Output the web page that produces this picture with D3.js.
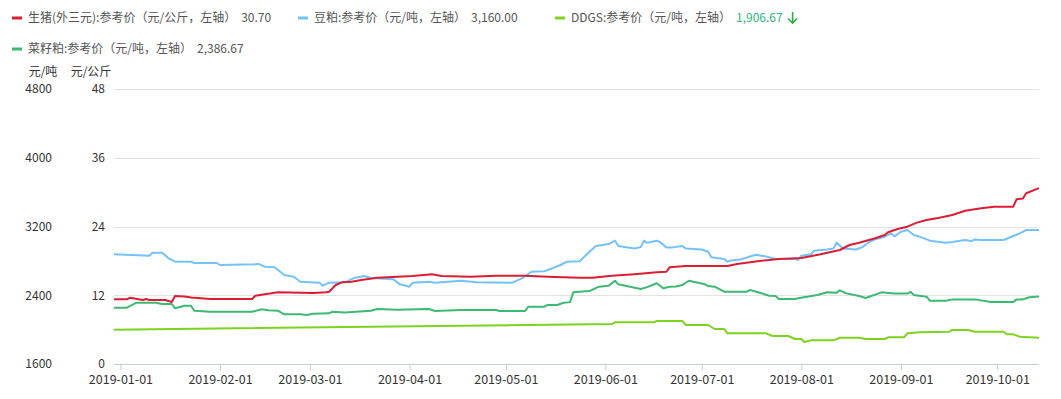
<!DOCTYPE html>
<html><head><meta charset="utf-8">
<script src="https://cdn.jsdelivr.net/npm/d3@7"></script>
<style>
body{margin:0;background:#fff;}
text{font-family:"Noto Sans CJK SC","Noto Sans",sans-serif;}
</style></head>
<body><svg id="c" width="1061" height="399"></svg>
<script>
// ---- data ----
const pigSeries = [
["2018-12-30",11.29],["2019-01-03",11.29],["2019-01-04",11.57],["2019-01-08",11.17],["2019-01-09",11.35],["2019-01-10",11.17],
["2019-01-15",11.17],["2019-01-17",10.82],["2019-01-18",11.87],["2019-01-21",11.8],["2019-01-23",11.6],["2019-01-29",11.35],
["2019-02-11",11.35],["2019-02-12",11.92],["2019-02-17",12.34],["2019-02-19",12.51],["2019-03-02",12.4],["2019-03-06",12.51],
["2019-03-07",12.62],["2019-03-09",13.79],["2019-03-11",14.26],["2019-03-14",14.35],["2019-03-17",14.66],["2019-03-22",15.06],
["2019-04-02",15.36],["2019-04-08",15.66],["2019-04-11",15.36],["2019-04-20",15.24],["2019-04-28",15.41],["2019-05-07",15.41],
["2019-05-14",15.24],["2019-05-24",15.06],["2019-05-28",15.06],["2019-06-03",15.4],["2019-06-10",15.66],["2019-06-17",16.0],
["2019-06-20",16.1],["2019-06-21",16.88],["2019-06-26",17.1],["2019-07-09",17.1],["2019-07-12",17.45],["2019-07-19",17.98],
["2019-07-25",18.33],["2019-08-01",18.5],["2019-08-07",19.15],["2019-08-13",19.9],["2019-08-16",20.77],["2019-08-19",21.17],
["2019-08-24",21.94],["2019-08-27",22.52],["2019-08-28",23.0],["2019-08-31",23.56],["2019-09-03",23.97],["2019-09-06",24.67],
["2019-09-09",25.14],["2019-09-13",25.54],["2019-09-17",26.0],["2019-09-21",26.76],["2019-09-26",27.18],["2019-09-30",27.46],
["2019-10-06",27.46],["2019-10-07",28.75],["2019-10-09",28.9],["2019-10-10",29.8],["2019-10-14",30.70]
];
const soySeries = [
["2018-12-30",2876],["2019-01-10",2860],["2019-01-11",2895],["2019-01-14",2895],["2019-01-16",2830],["2019-01-18",2790],
["2019-01-23",2790],["2019-01-24",2775],["2019-01-31",2775],["2019-02-01",2752],["2019-02-12",2760],["2019-02-13",2765],
["2019-02-15",2732],["2019-02-18",2725],["2019-02-21",2636],["2019-02-24",2616],["2019-02-26",2558],["2019-03-04",2546],
["2019-03-05",2511],["2019-03-07",2546],["2019-03-12",2550],["2019-03-15",2604],["2019-03-18",2624],["2019-03-20",2600],
["2019-03-27",2585],["2019-03-29",2527],["2019-04-01",2500],["2019-04-02",2546],["2019-04-07",2558],["2019-04-09",2546],
["2019-04-17",2569],["2019-04-22",2552],["2019-05-03",2546],["2019-05-06",2597],["2019-05-09",2674],["2019-05-13",2680],
["2019-05-16",2721],["2019-05-18",2752],["2019-05-20",2790],["2019-05-24",2795],["2019-05-26",2868],["2019-05-29",2973],
["2019-06-02",2996],["2019-06-04",3035],["2019-06-05",2973],["2019-06-10",2945],["2019-06-12",2960],["2019-06-13",3035],
["2019-06-14",3010],["2019-06-17",3035],["2019-06-18",3020],["2019-06-20",2957],["2019-06-22",2957],["2019-06-25",2973],
["2019-06-26",2945],["2019-07-01",2933],["2019-07-03",2906],["2019-07-04",2841],["2019-07-08",2822],["2019-07-09",2790],
["2019-07-10",2805],["2019-07-13",2815],["2019-07-16",2850],["2019-07-18",2871],["2019-07-21",2850],["2019-07-24",2822],
["2019-07-30",2822],["2019-07-31",2810],["2019-08-01",2860],["2019-08-04",2876],["2019-08-05",2918],["2019-08-09",2933],
["2019-08-11",2945],["2019-08-12",3012],["2019-08-14",2945],["2019-08-18",2933],["2019-08-20",2960],["2019-08-22",3016],
["2019-08-24",3051],["2019-08-27",3081],["2019-08-29",3120],["2019-08-30",3085],["2019-09-01",3139],["2019-09-03",3159],
["2019-09-05",3101],["2019-09-07",3080],["2019-09-10",3035],["2019-09-15",3012],["2019-09-17",3020],["2019-09-21",3043],
["2019-09-23",3030],["2019-09-24",3050],["2019-09-26",3043],["2019-10-03",3043],["2019-10-06",3089],["2019-10-08",3120],
["2019-10-10",3159],["2019-10-14",3160]
];
const ddgsSeries = [
["2018-12-30",1999],["2019-06-03",2065],["2019-06-04",2085],["2019-06-16",2085],["2019-06-17",2100],["2019-06-25",2100],
["2019-06-26",2054],["2019-07-03",2054],["2019-07-05",2007],["2019-07-08",2007],["2019-07-09",1957],["2019-07-21",1957],
["2019-07-23",1926],["2019-07-28",1926],["2019-07-30",1891],["2019-08-01",1891],["2019-08-02",1856],["2019-08-04",1875],
["2019-08-11",1875],["2019-08-13",1906],["2019-08-19",1906],["2019-08-21",1891],["2019-08-27",1891],["2019-08-28",1910],
["2019-09-02",1910],["2019-09-03",1957],["2019-09-07",1969],["2019-09-16",1975],["2019-09-17",1996],["2019-09-22",1996],
["2019-09-24",1976],["2019-10-03",1976],["2019-10-04",1945],["2019-10-06",1945],["2019-10-08",1918],["2019-10-14",1906.67]
];
const rapeSeries = [
["2018-12-30",2255],["2019-01-03",2255],["2019-01-06",2313],["2019-01-12",2313],["2019-01-14",2298],["2019-01-17",2298],
["2019-01-18",2248],["2019-01-21",2278],["2019-01-23",2278],["2019-01-24",2220],["2019-01-29",2209],["2019-02-11",2209],
["2019-02-14",2236],["2019-02-16",2225],["2019-02-19",2220],["2019-02-21",2178],["2019-02-26",2178],["2019-02-28",2170],
["2019-03-02",2185],["2019-03-07",2190],["2019-03-08",2209],["2019-03-12",2200],["2019-03-20",2220],["2019-03-22",2240],
["2019-03-28",2232],["2019-04-07",2240],["2019-04-09",2217],["2019-04-17",2228],["2019-04-28",2228],["2019-04-29",2217],
["2019-05-07",2217],["2019-05-08",2267],["2019-05-13",2267],["2019-05-14",2287],["2019-05-17",2287],["2019-05-19",2313],
["2019-05-21",2320],["2019-05-22",2434],["2019-05-27",2449],["2019-05-30",2500],["2019-06-02",2510],["2019-06-04",2569],
["2019-06-05",2527],["2019-06-12",2473],["2019-06-14",2495],["2019-06-17",2539],["2019-06-19",2481],["2019-06-21",2500],
["2019-06-23",2502],["2019-06-25",2520],["2019-06-27",2569],["2019-07-02",2527],["2019-07-03",2507],["2019-07-05",2500],
["2019-07-08",2441],["2019-07-15",2441],["2019-07-16",2461],["2019-07-18",2441],["2019-07-22",2395],["2019-07-24",2390],
["2019-07-25",2356],["2019-07-30",2356],["2019-07-31",2365],["2019-08-06",2403],["2019-08-09",2434],["2019-08-12",2430],
["2019-08-13",2457],["2019-08-15",2422],["2019-08-19",2391],["2019-08-21",2368],["2019-08-26",2434],["2019-08-30",2420],
["2019-09-03",2420],["2019-09-04",2440],["2019-09-05",2403],["2019-09-09",2383],["2019-09-10",2337],["2019-09-15",2337],
["2019-09-17",2352],["2019-09-24",2352],["2019-09-29",2321],["2019-10-06",2321],["2019-10-07",2352],["2019-10-09",2352],
["2019-10-11",2376],["2019-10-14",2386.67]
];
const tonTicks = [1600, 2400, 3200, 4000, 4800];
const kgTicks = [0, 12, 24, 36, 48];
const monthTicks = ["2019-01-01","2019-02-01","2019-03-01","2019-04-01","2019-05-01","2019-06-01","2019-07-01","2019-08-01","2019-09-01","2019-10-01"];
const legendItems = [
 {name:"生猪(外三元):参考价（元/公斤，左轴）", value:"30.70", color:"#dc1e35", row:0, x:12},
 {name:"豆粕:参考价（元/吨，左轴）", value:"3,160.00", color:"#74c3f8", row:0, x:298},
 {name:"DDGS:参考价（元/吨，左轴）", value:"1,906.67", color:"#7ed321", row:0, x:555, down:true},
 {name:"菜籽粕:参考价（元/吨，左轴）", value:"2,386.67", color:"#3dba72", row:1, x:12}
];

// ---- chart ----
const svg = d3.select("#c");
const parse = d3.timeParse("%Y-%m-%d");
const mLeft = 114, mRight = 1039, mTop = 89, mBottom = 364;
const x = d3.scaleTime().domain([parse("2018-12-30"), parse("2019-10-14")]).range([mLeft, mRight]);
const yTon = d3.scaleLinear().domain([1600, 4800]).range([mBottom, mTop]);
const yKg = d3.scaleLinear().domain([0, 48]).range([mBottom, mTop]);
const FONT = '"Noto Sans CJK SC","Noto Sans",sans-serif';

// gridlines
svg.append("g").selectAll("line").data(tonTicks.slice(1)).join("line")
  .attr("x1", mLeft).attr("x2", mRight)
  .attr("y1", d => Math.round(yTon(d)) + 0.5).attr("y2", d => Math.round(yTon(d)) + 0.5)
  .attr("stroke", "#e3e3e3").attr("stroke-width", 1);

// y axis labels
const gTon = svg.append("g").attr("transform", "translate(52,0)")
  .call(d3.axisLeft(yTon).tickValues(tonTicks).tickSize(0).tickPadding(0).tickFormat(d3.format("d")));
const gKg = svg.append("g").attr("transform", "translate(105,0)")
  .call(d3.axisLeft(yKg).tickValues(kgTicks).tickSize(0).tickPadding(0).tickFormat(d3.format("d")));
[gTon, gKg].forEach(g => {
  g.select(".domain").remove();
  g.selectAll("text").attr("font-size", 12).attr("fill", "#333").attr("font-family", FONT);
});
svg.append("text").attr("x", 43).attr("y", 76).attr("text-anchor", "middle").attr("font-size", 12).attr("fill", "#333").text("元/吨");
svg.append("text").attr("x", 91).attr("y", 76).attr("text-anchor", "middle").attr("font-size", 12).attr("fill", "#333").text("元/公斤");

// x axis
const gx = svg.append("g").attr("transform", `translate(0,${mBottom + 0.5})`)
  .call(d3.axisBottom(x).tickValues(monthTicks.map(parse)).tickSize(6).tickPadding(5).tickFormat(d3.timeFormat("%Y-%m-%d")));
gx.select(".domain").attr("stroke", "#c6ccd6").attr("d", `M${mLeft},0H${mRight}`);
gx.selectAll(".tick line").attr("stroke", "#c6ccd6");
gx.selectAll("text").attr("font-size", 12.5).attr("fill", "#333").attr("font-family", FONT);

// lines
const lineTon = d3.line().x(d => x(parse(d[0]))).y(d => yTon(d[1]));
const lineKg = d3.line().x(d => x(parse(d[0]))).y(d => yKg(d[1]));
const draw = (data, gen, color) => svg.append("path").datum(data).attr("d", gen)
  .attr("fill", "none").attr("stroke", color).attr("stroke-width", 2).attr("stroke-linejoin", "round");
draw(ddgsSeries, lineTon, "#7ed321");
draw(rapeSeries, lineTon, "#3dba72");
draw(soySeries, lineTon, "#74c3f8");
draw(pigSeries, lineKg, "#dc1e35");

// legend
legendItems.forEach(it => {
  const cy = it.row === 0 ? 18 : 49;
  const g = svg.append("g");
  g.append("rect").attr("x", it.x).attr("y", cy - 1.5).attr("width", 10).attr("height", 3).attr("fill", it.color);
  const t = g.append("text").attr("x", it.x + 16).attr("y", cy + 4).attr("font-size", 12).attr("fill", "#555").text(it.name);
  const w = t.node().getComputedTextLength();
  const v = g.append("text").attr("x", it.x + 16 + w + 5).attr("y", cy + 4).attr("font-size", 12)
    .attr("fill", it.down ? "#2fb67a" : "#555").text(it.value);
  if (it.down) {
    const vw = v.node().getComputedTextLength();
    const ax = it.x + 16 + w + 5 + vw + 10;
    g.append("path").attr("d", `M${ax},${cy - 6}V${cy + 5}M${ax - 4.5},${cy + 0.5}L${ax},${cy + 5}L${ax + 4.5},${cy + 0.5}`)
      .attr("fill", "none").attr("stroke", "#2fae3f").attr("stroke-width", 1.6);
  }
});
</script></body></html>
